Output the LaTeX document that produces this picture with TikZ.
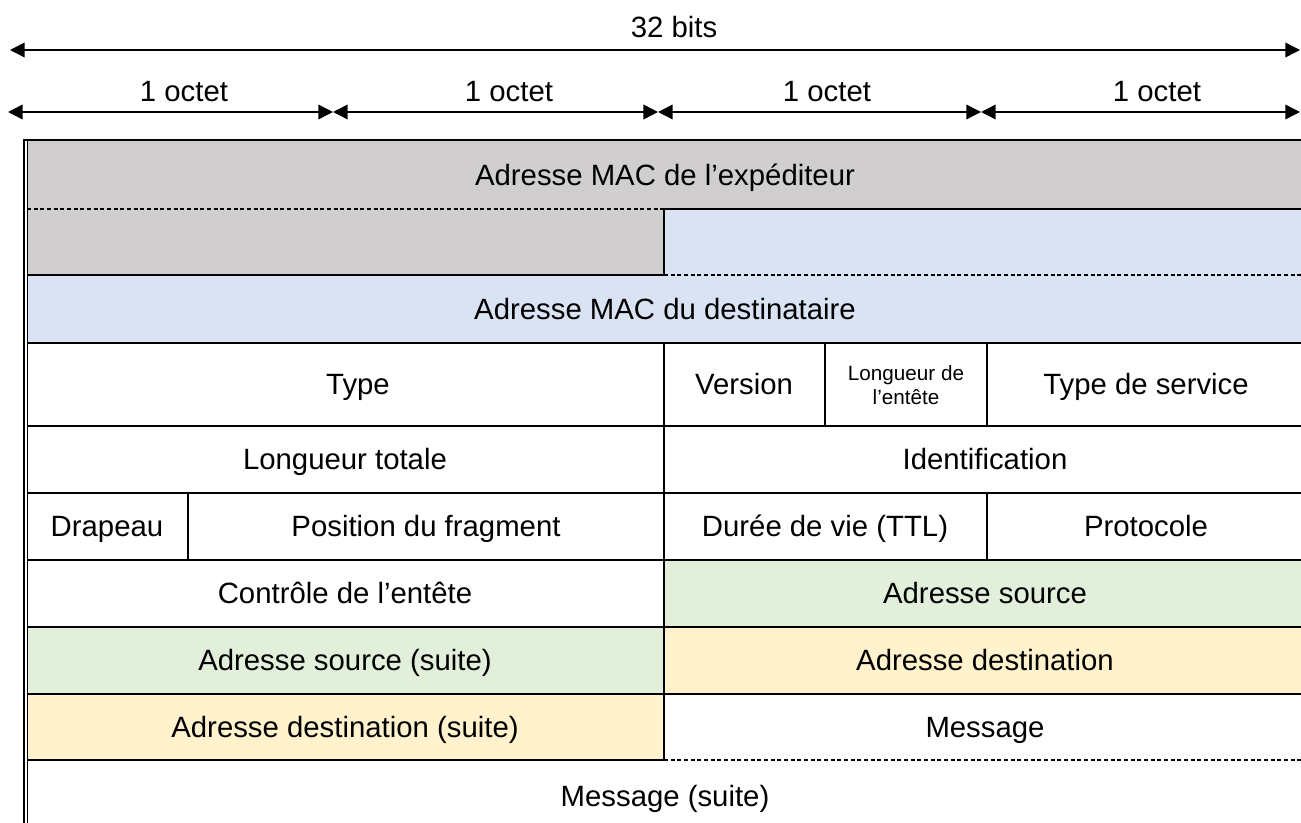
\documentclass[tikz,border=0pt]{standalone}
\usepackage{fontspec}
\setmainfont{Liberation Sans}
\usetikzlibrary{arrows.meta}
\definecolor{gristrame}{RGB}{208,206,206}
\definecolor{bleutrame}{RGB}{218,227,243}
\definecolor{verttrame}{RGB}{226,239,218}
\definecolor{jaunetrame}{RGB}{255,242,204}

\begin{document}
\begin{tikzpicture}[x=0.75pt,y=0.75pt,yscale=-1,xscale=1,
  champ/.style={font=\fontsize{22}{26}\selectfont, inner sep=0pt, text height=15.7pt, text depth=0pt},
  petit/.style={font=\fontsize{15.5}{17.5}\selectfont, inner sep=0pt, align=center},
  trait/.style={line width=1.3pt},
  pointille/.style={line width=0.9pt, dash pattern=on 3pt off 2pt},
  cote/.style={line width=1.1pt, {Triangle[length=11pt,width=11pt]}-{Triangle[length=11pt,width=11pt]}}]
\useasboundingbox (0,0) rectangle (1301,823);
\clip (0,0) rectangle (1301,823);

%cotes du haut
\coordinate (b0) at (10,50);
\coordinate (b1) at (1300,50);
\coordinate (o0) at (8,112);
\coordinate (o1) at (333,112);
\coordinate (o2) at (658,112);
\coordinate (o3) at (981,112);
\coordinate (o4) at (1300,112);
\draw [cote] (b0) -- (b1);
\draw [cote] (o0) -- (o1);
\draw [cote] (o1) -- (o2);
\draw [cote] (o2) -- (o3);
\draw [cote] (o3) -- (o4);
\node [champ] (bits32) at (674,27) {32 bits};
\node [champ] (oct1) at (184,91) {1 octet};
\node [champ] (oct2) at (509,91) {1 octet};
\node [champ] (oct3) at (827,91) {1 octet};
\node [champ] (oct4) at (1157,91) {1 octet};

%trames colorees
\fill [gristrame] (27,140) rectangle (1310,209);
\fill [gristrame] (27,209) rectangle (664,275);
\fill [bleutrame] (664,209) rectangle (1310,275);
\fill [bleutrame] (27,275) rectangle (1310,343);
\fill [verttrame] (664,560) rectangle (1310,627);
\fill [verttrame] (27,627) rectangle (664,694);
\fill [jaunetrame] (664,627) rectangle (1310,694);
\fill [jaunetrame] (27,694) rectangle (664,760);

%bord gauche double
\draw [line width=1.4pt] (24.3,139) -- (24.3,830);
\draw [line width=1.05pt] (27.2,141) -- (27.2,830);

%lignes horizontales
\draw [line width=2pt] (23.5,140) -- (1310,140);
\draw [pointille] (27,209) -- (664,209);
\draw [trait] (664,209) -- (1310,209);
\draw [trait] (27,275) -- (664,275);
\draw [pointille] (664,275) -- (1310,275);
\foreach \y in {343,426,493,560,627,694}
  \draw [trait] (27,\y) -- (1310,\y);
\draw [trait] (27,760) -- (664,760);
\draw [pointille] (664,760) -- (1310,760);

%lignes verticales
\draw [trait] (664,209) -- (664,275);
\draw [trait] (664,343) -- (664,760);
\draw [trait] (825,343) -- (825,426);
\draw [trait] (987,343) -- (987,426);
\draw [trait] (188,493) -- (188,560);
\draw [trait] (987,493) -- (987,560);

%champs
\node [champ] (macsrc) at (665,175) {Adresse MAC de l’expéditeur};
\node [champ] (macdst) at (665,309) {Adresse MAC du destinataire};
\node [champ] (type) at (358,384) {Type};
\node [champ] (version) at (744,384) {Version};
\node [petit] (lgentete) at (906,385) {Longueur de\\l’entête};
\node [champ] (tos) at (1146,384) {Type de service};
\node [champ] (lgtotale) at (345,459) {Longueur totale};
\node [champ] (ident) at (985,459) {Identification};
\node [champ] (drapeau) at (107,526) {Drapeau};
\node [champ] (posfrag) at (426,526) {Position du fragment};
\node [champ] (ttl) at (825,526) {Durée de vie (TTL)};
\node [champ] (proto) at (1146,526) {Protocole};
\node [champ] (ctrl) at (345,593) {Contrôle de l’entête};
\node [champ] (ipsrc) at (985,593) {Adresse source};
\node [champ] (ipsrcsuite) at (345,660) {Adresse source (suite)};
\node [champ] (ipdst) at (985,660) {Adresse destination};
\node [champ] (ipdstsuite) at (345,727) {Adresse destination (suite)};
\node [champ] (msg) at (985,727) {Message};
\node [champ] (msgsuite) at (665,796) {Message (suite)};

\end{tikzpicture}
\end{document}
